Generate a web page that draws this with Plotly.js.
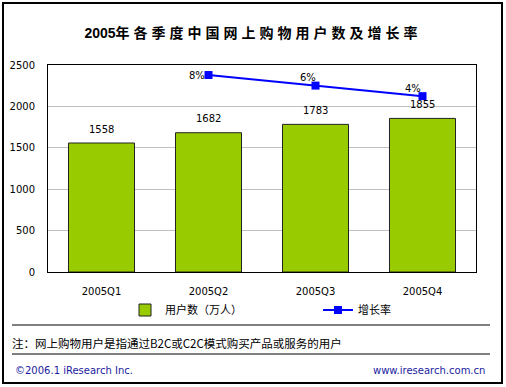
<!DOCTYPE html>
<html>
<head>
<meta charset="utf-8">
<script src="https://cdn.plot.ly/plotly-3.0.1.min.js"></script>
<style>
html,body{margin:0;padding:0;background:#fff;}
#chart{width:506px;height:387px;}
</style>
</head>
<body>
<div id="chart"></div>
<script>
const quarters = ["2005Q1", "2005Q2", "2005Q3", "2005Q4"];
const users = [1558, 1682, 1783, 1855];
const growthQuarters = ["2005Q2", "2005Q3", "2005Q4"];
const growth = [8, 6, 4];
const growthLabels = ["8%", "6%", "4%"];
const yTicks = [0, 500, 1000, 1500, 2000, 2500];

// label offsets (px) for growth labels relative to their markers
const growthLabelShift = [[-12, 0], [-8, 8], [-10, 8]];

const FONT = "DejaVu Sans, Noto Sans CJK SC, sans-serif";
const CJK = "Noto Sans CJK SC, DejaVu Sans, sans-serif";

const W = 506, H = 387, L = 48, R = 30, T = 65, B = 115;
const PW = W - L - R, PH = H - T - B;
const px = x => (x - L) / PW;
const py = y => 1 - (y - T) / PH;

const barTrace = {
  type: "bar",
  name: "用户数（万人）",
  x: quarters,
  y: users,
  marker: {color: "#99CC00", line: {color: "#222222", width: 1}},
  legend: "legend"
};

const lineTrace = {
  type: "scatter",
  mode: "lines+markers",
  name: "增长率",
  x: growthQuarters,
  y: growth,
  yaxis: "y2",
  line: {color: "#0000FF", width: 2},
  marker: {color: "#0000FF", symbol: "square", size: 8},
  legend: "legend2"
};

const barLabels = quarters.map((q, i) => ({
  x: q, y: users[i], xref: "x", yref: "y",
  text: String(users[i]), showarrow: false,
  yanchor: "middle", yshift: 14,
  font: {family: FONT, size: 10, color: "#000"}
}));

const lineLabels = growthQuarters.map((q, i) => ({
  x: q, y: growth[i], xref: "x", yref: "y2",
  text: growthLabels[i], showarrow: false,
  xanchor: "center", yanchor: "middle",
  xshift: growthLabelShift[i][0], yshift: growthLabelShift[i][1],
  font: {family: FONT, size: 10, color: "#000"}
}));

const annotations = barLabels.concat(lineLabels, [
  {xref: "paper", yref: "paper", x: px(10), y: py(343), xanchor: "left", yanchor: "middle",
   text: "注：网上购物用户是指通过B2C或C2C模式购买产品或服务的用户", showarrow: false,
   font: {family: CJK, size: 11.5, color: "#000"}},
  {xref: "paper", yref: "paper", x: px(13), y: py(370), xanchor: "left", yanchor: "middle",
   text: "©2006.1 iResearch Inc.", showarrow: false,
   font: {family: FONT, size: 10, color: "#1a1aa0"}},
  {xref: "paper", yref: "paper", x: px(487), y: py(370), xanchor: "right", yanchor: "middle",
   text: "www.iresearch.com.cn", showarrow: false,
   font: {family: FONT, size: 10, color: "#1a1aa0"}}
]);

const shapes = [
  {type: "rect", xref: "paper", yref: "paper", x0: px(3), x1: px(502), y0: py(383), y1: py(3),
   line: {color: "#000", width: 2}, layer: "below"},
  {type: "line", xref: "paper", yref: "paper", x0: px(12), x1: px(490), y0: py(325), y1: py(325),
   line: {color: "#000", width: 1}},
  {type: "line", xref: "paper", yref: "paper", x0: px(12), x1: px(490), y0: py(354), y1: py(354),
   line: {color: "#000", width: 1}}
];

const legendBase = {
  orientation: "h", xanchor: "left", y: py(310), yanchor: "middle",
  font: {family: CJK, size: 11, color: "#000"},
  bgcolor: "rgba(0,0,0,0)", borderwidth: 0
};

const layout = {
  width: W, height: H,
  margin: {l: L, r: R, t: T, b: B, pad: 0},
  paper_bgcolor: "#fff",
  plot_bgcolor: "#fff",
  title: {
    text: "2005<span style=\"letter-spacing:4px\">年各季度中国网上购物用户数及增长率</span>",
    font: {family: "Liberation Sans, Noto Sans CJK SC, sans-serif", size: 14, color: "#000", weight: "bold"},
    x: 0.5, xanchor: "center", y: 1 - 33 / H, yanchor: "middle"
  },
  bargap: 0.383,
  showlegend: true,
  legend: Object.assign({}, legendBase, {x: px(125)}),
  legend2: Object.assign({}, legendBase, {x: px(318)}),
  xaxis: {
    type: "category",
    showline: true, linecolor: "#000", linewidth: 1, mirror: true,
    showgrid: false, ticks: "", ticklabelstandoff: 10,
    tickfont: {family: FONT, size: 10, color: "#000"}
  },
  yaxis: {
    range: [0, 2500], tickvals: yTicks,
    showline: true, linecolor: "#000", linewidth: 1, mirror: true,
    showgrid: true, gridcolor: "#c0c0c0", gridwidth: 1,
    zeroline: false, ticks: "", ticklabelstandoff: 10,
    tickfont: {family: FONT, size: 10, color: "#000"}
  },
  yaxis2: {
    overlaying: "y", side: "right", range: [-29.3, 9.9], visible: false, showgrid: false
  },
  annotations: annotations,
  shapes: shapes
};

Plotly.newPlot("chart", [barTrace, lineTrace], layout, {displayModeBar: false, staticPlot: true});
</script>
</body>
</html>
